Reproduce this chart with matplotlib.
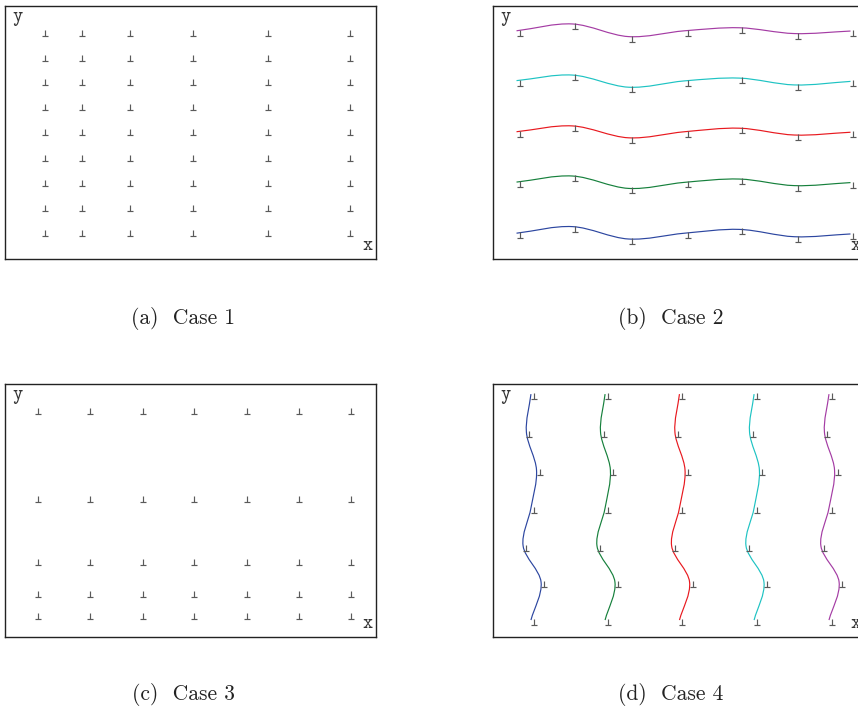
import matplotlib
matplotlib.use("Agg")
import matplotlib.pyplot as plt
from matplotlib.path import Path
from matplotlib.patches import PathPatch
import numpy as np

# ---------------- data ----------------
# Case 1: tensor grid of nodes
a_x = [0.146, 0.291, 0.482, 0.733, 1.029, 1.352]
a_y = [0.903, 0.804, 0.706, 0.607, 0.508, 0.409, 0.310, 0.208, 0.109]

# Case 2: wavy horizontal node lines
b_x = [0.093, 0.314, 0.536, 0.757, 0.974, 1.192, 1.413]
b_blue = [0.102, 0.128, 0.079, 0.102, 0.117, 0.088, 0.099]
b_green = [0.304, 0.328, 0.279, 0.303, 0.316, 0.290, 0.302]
b_red = [0.503, 0.526, 0.479, 0.503, 0.517, 0.490, 0.501]
b_cyan = [0.705, 0.727, 0.679, 0.704, 0.715, 0.688, 0.702]
b_purple = [0.902, 0.929, 0.879, 0.902, 0.914, 0.891, 0.901]

# Case 3: non-uniform rows
c_x = [0.120, 0.324, 0.532, 0.736, 0.943, 1.150, 1.356]
c_y = [0.903, 0.555, 0.306, 0.179, 0.089]

# Case 4: wavy vertical node lines
d_y = [0.960, 0.810, 0.660, 0.510, 0.360, 0.217, 0.067]
d_blue = [0.150, 0.132, 0.172, 0.150, 0.119, 0.190, 0.150]
d_green = [0.443, 0.425, 0.464, 0.443, 0.411, 0.482, 0.443]
d_red = [0.737, 0.719, 0.759, 0.737, 0.706, 0.777, 0.737]
d_cyan = [1.032, 1.014, 1.053, 1.032, 1.000, 1.071, 1.032]
d_purple = [1.328, 1.310, 1.350, 1.328, 1.296, 1.368, 1.328]

captions = ["(a)  Case 1", "(b)  Case 2", "(c)  Case 3", "(d)  Case 4"]
line_colors = ["#2c46a0", "#16803c", "#e8191f", "#1ec3c3", "#a43ca4"]

# ---------------- style ----------------
W, H = 858, 709
fig = plt.figure(figsize=(W / 100, H / 100), dpi=100)
fig.patch.set_facecolor("white")

BOX_W, BOX_H = 371, 253
XMAX = BOX_W / 253.0

# ⊥ marker: stem right of node, bar below (units ~ pixels)
perp = Path([(3, 1), (3, -4.5), (0.3, -4.5), (5.7, -4.5)],
            [Path.MOVETO, Path.LINETO, Path.MOVETO, Path.LINETO])
MS = 0.72 * 5.7 * 2
MK = dict(marker=perp, markersize=MS, linestyle="none",
          markerfacecolor="none", markeredgecolor="#5a5a5a", markeredgewidth=0.85)

LABEL_FONT = dict(family="cmtt10", size=14, color="#333333")


def make_ax(left_px, top_px):
    ax = fig.add_axes([left_px / W, 1 - (top_px + BOX_H) / H, BOX_W / W, BOX_H / H])
    ax.set_xlim(0, XMAX)
    ax.set_ylim(0, 1)
    ax.set_xticks([])
    ax.set_yticks([])
    for s in ax.spines.values():
        s.set_linewidth(1.0)
        s.set_color("#222222")
    ax.text(7.5 / BOX_W, 1 - 15 / BOX_H, "y", transform=ax.transAxes,
            ha="left", va="baseline", **LABEL_FONT)
    ax.text(357.5 / BOX_W, 9 / BOX_H, "x", transform=ax.transAxes,
            ha="left", va="baseline", clip_on=False, **LABEL_FONT)
    return ax


def smooth(ax, xs, ys, color):
    P = np.column_stack([xs, ys]).astype(float)
    n = len(P)
    verts = [P[0]]
    codes = [Path.MOVETO]
    for i in range(n - 1):
        p1, p2 = P[i], P[i + 1]
        p0 = P[i - 1] if i > 0 else 2 * p1 - p2
        p3 = P[i + 2] if i + 2 < n else 2 * p2 - p1
        c1 = p1 + (p2 - p0) / 6.0
        c2 = p2 - (p3 - p1) / 6.0
        verts += [c1, c2, p2]
        codes += [Path.CURVE4] * 3
    ax.add_patch(PathPatch(Path(verts, codes), facecolor="none",
                           edgecolor=color, linewidth=0.85))


# (a)
ax = make_ax(5, 6)
for yv in a_y:
    ax.plot(a_x, [yv] * len(a_x), **MK)

# (b)
ax = make_ax(493, 6)
for series, col in zip([b_blue, b_green, b_red, b_cyan, b_purple], line_colors):
    smooth(ax, b_x, series, col)
    ax.plot(b_x, series, **MK)

# (c)
ax = make_ax(5, 384)
for yv in c_y:
    ax.plot(c_x, [yv] * len(c_x), **MK)

# (d)
ax = make_ax(493, 384)
for series, col in zip([d_blue, d_green, d_red, d_cyan, d_purple], line_colors):
    smooth(ax, series, d_y, col)
    ax.plot(series, d_y, **MK)

# captions
cap_pos = [(183, 319), (671, 319), (183, 695), (671, 695)]
for (cx, cy), t in zip(cap_pos, captions):
    fig.text(cx / W, 1 - cy / H, t, ha="center", va="center",
             family="cmr10", size=15.5, color="#222222")

fig.savefig("out.png", dpi=100, facecolor="white")
